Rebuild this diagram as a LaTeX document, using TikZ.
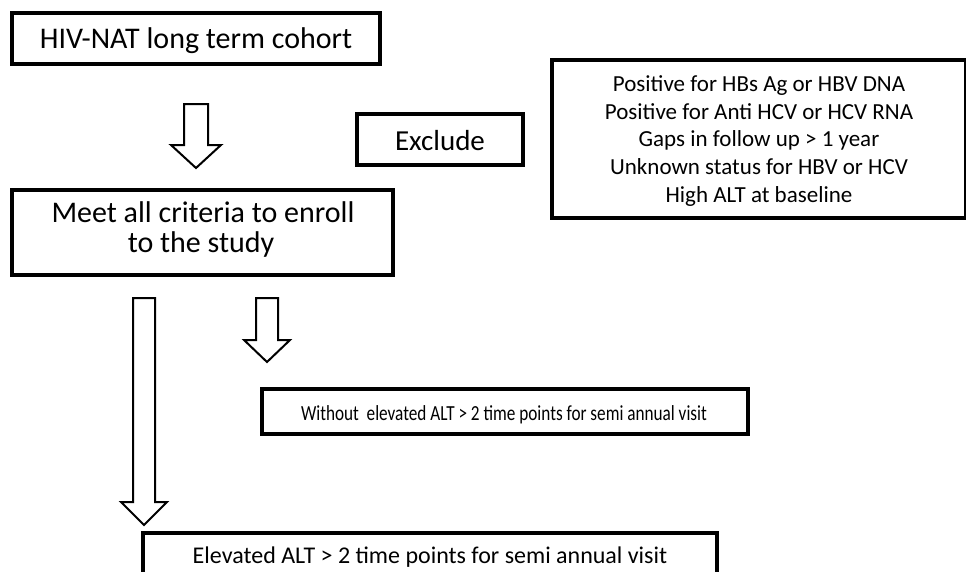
\documentclass[tikz,border=0pt]{standalone}
\usepackage{fontspec}
\setmainfont{Carlito}
\newfontfamily\narrowfont[FakeStretch=0.8]{Carlito}
\begin{document}
\begin{tikzpicture}[x=1pt,y=-1pt,
  boxthick/.style={draw=black,line width=4.5pt,fill=white},
  blk/.style={draw=black,line width=2pt,fill=white,line join=miter},
  txt/.style={inner sep=0pt,align=center,text=black,anchor=base}]
\useasboundingbox (0,0) rectangle (966,571);
\clip (0,0) rectangle (966,571);
\newcommand{\blockdown}[5]{% cx, top, headstart, tip, halfshaft
  \draw[blk] (#1-#5,#2) -- (#1+#5,#2) -- (#1+#5,#3) -- (#1+2*#5+1,#3) -- (#1,#4) -- (#1-2*#5-1,#3) -- (#1-#5,#3) -- cycle;}
% boxes
\draw[boxthick] (12,13) rectangle (380,64);
\node[txt,font=\fontsize{30}{31}\selectfont] (b1) at (196,48) {HIV-NAT long term cohort};
\draw[boxthick] (357,114) rectangle (523,165);
\node[txt,font=\fontsize{29}{30}\selectfont] (ex) at (440,150) {Exclude};
\draw[boxthick] (552,60) rectangle (966,218);
\node[txt,font=\fontsize{23}{27.7}\selectfont,anchor=center] (crit) at (759,141) {Positive for HBs Ag or HBV DNA\\Positive for Anti HCV or HCV RNA\\Gaps in follow up > 1 year\\Unknown status for HBV or HCV\\High ALT at baseline};
\draw[boxthick] (12,190) rectangle (393,275);
\node[txt,font=\fontsize{30}{30}\selectfont,anchor=base] (b2a) at (203,222) {Meet all criteria to enroll};
\node[txt,font=\fontsize{30}{30}\selectfont,anchor=base] (b2b) at (201,252) {to the study};
\draw[boxthick] (262,389) rectangle (748,434);
\node[txt,font=\narrowfont\fontsize{21.5}{24}\selectfont] (wo) at (504,420) {Without\ \ elevated ALT > 2 time points for semi annual visit};
\draw[boxthick] (143,533) rectangle (717,620);
\node[txt,font=\fontsize{24}{26}\selectfont] (el) at (430,563) {Elevated ALT > 2 time points for semi annual visit};
% block arrows
\blockdown{196}{104}{145}{168}{12}
\blockdown{144}{298}{502}{525}{11}
\blockdown{267}{298}{340}{362}{11}
\end{tikzpicture}
\end{document}
